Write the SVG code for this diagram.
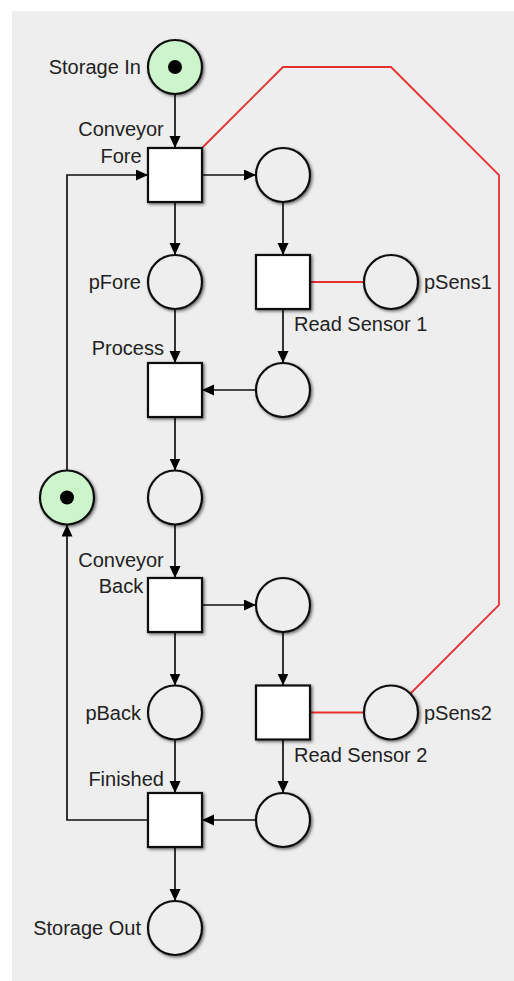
<svg xmlns="http://www.w3.org/2000/svg" width="514" height="981" viewBox="0 0 514 981">
  <defs>
    <filter id="sh" x="-30%" y="-30%" width="160%" height="160%">
      <feDropShadow dx="1.5" dy="1.5" stdDeviation="1.6" flood-color="#000" flood-opacity="0.55"/>
    </filter>
    <marker id="arr" markerUnits="userSpaceOnUse" markerWidth="13" markerHeight="12" refX="12" refY="5.5" orient="auto">
      <path d="M0,0 L12,5.5 L0,11 z" fill="#000"/>
    </marker>
  </defs>
  <style>
    .place { fill: #eeeeee; stroke: #111; stroke-width: 2.2; filter: url(#sh); }
    .marked { fill: #ccf5cc; }
    .trans { fill: #ffffff; stroke: #111; stroke-width: 2.2; filter: url(#sh); }
    .token { fill: #000; }
    .arc { fill: none; stroke: #111; stroke-width: 1.7; marker-end: url(#arr); }
    .inh { fill: none; stroke: #e53030; stroke-width: 1.8; }
    text { font-family: "Liberation Sans", Arial, sans-serif; font-size: 20px; fill: #222; }
    .r { text-anchor: end; }
    .m { text-anchor: middle; }
  </style>
  <rect x="12" y="11" width="502" height="970" fill="#eeeeee"/>

  <g id="connectors">
    <path class="arc" d="M175,94 L175,148"/>
    <path class="arc" d="M202,175 L256,175"/>
    <path class="arc" d="M283,202 L283,255"/>
    <path class="arc" d="M175,202 L175,255"/>
    <path class="arc" d="M175,309 L175,363"/>
    <path class="arc" d="M283,309 L283,363"/>
    <path class="arc" d="M256,390 L202,390"/>
    <path class="arc" d="M175,417 L175,470.5"/>
    <path class="arc" d="M175,524.5 L175,578"/>
    <path class="arc" d="M202,605 L256,605"/>
    <path class="arc" d="M283,632 L283,685.5"/>
    <path class="arc" d="M175,632 L175,685.5"/>
    <path class="arc" d="M175,739.5 L175,793"/>
    <path class="arc" d="M283,739.5 L283,793"/>
    <path class="arc" d="M256,820 L202,820"/>
    <path class="arc" d="M175,847 L175,901"/>
    <path class="arc" d="M148,820 L67,820 L67,524.5"/>
    <path class="arc" d="M67,470.5 L67,175 L148,175"/>
    <path class="inh" d="M202,148 L283,67 L391,67 L499,175 L499,605 L410,694"/>
    <path class="inh" d="M310,282 L364,282"/>
    <path class="inh" d="M310,712.5 L364,712.5"/>
  </g>

  <g id="storage-in">
    <circle class="place marked" cx="175" cy="67" r="27"/>
    <circle class="token" cx="175" cy="67" r="7"/>
    <text class="r" x="141" y="74">Storage In</text>
  </g>
  <g id="conveyor-fore">
    <rect class="trans" x="148" y="148" width="54" height="54"/>
    <text class="m" x="121" y="136">Conveyor</text>
    <text class="m" x="121" y="162.5">Fore</text>
  </g>
  <g id="p-fore-out">
    <circle class="place" cx="283" cy="175" r="27"/>
  </g>
  <g id="p-fore">
    <circle class="place" cx="175" cy="282" r="27"/>
    <text class="r" x="141" y="289">pFore</text>
  </g>
  <g id="read-sensor-1">
    <rect class="trans" x="256" y="255" width="54" height="54"/>
    <text x="294" y="331">Read Sensor 1</text>
  </g>
  <g id="p-sens1">
    <circle class="place" cx="391" cy="282" r="27"/>
    <text x="424" y="289">pSens1</text>
  </g>
  <g id="process">
    <rect class="trans" x="148" y="363" width="54" height="54"/>
    <text class="r" x="164" y="355">Process</text>
  </g>
  <g id="p-read1-out">
    <circle class="place" cx="283" cy="390" r="27"/>
  </g>
  <g id="p-mid">
    <circle class="place" cx="175" cy="497.5" r="27"/>
  </g>
  <g id="p-loop">
    <circle class="place marked" cx="67" cy="497.5" r="27"/>
    <circle class="token" cx="67" cy="497.5" r="7"/>
  </g>
  <g id="conveyor-back">
    <rect class="trans" x="148" y="578" width="54" height="54"/>
    <text class="m" x="121" y="566.5">Conveyor</text>
    <text class="m" x="121" y="593">Back</text>
  </g>
  <g id="p-back-out">
    <circle class="place" cx="283" cy="605" r="27"/>
  </g>
  <g id="p-back">
    <circle class="place" cx="175" cy="712.5" r="27"/>
    <text class="r" x="141" y="720">pBack</text>
  </g>
  <g id="read-sensor-2">
    <rect class="trans" x="256" y="685.5" width="54" height="54"/>
    <text x="294" y="761.5">Read Sensor 2</text>
  </g>
  <g id="p-sens2">
    <circle class="place" cx="391" cy="712.5" r="27"/>
    <text x="424" y="720">pSens2</text>
  </g>
  <g id="finished">
    <rect class="trans" x="148" y="793" width="54" height="54"/>
    <text class="r" x="164" y="786">Finished</text>
  </g>
  <g id="p-read2-out">
    <circle class="place" cx="283" cy="820" r="27"/>
  </g>
  <g id="storage-out">
    <circle class="place" cx="175" cy="928" r="27"/>
    <text class="r" x="141" y="935">Storage Out</text>
  </g>
</svg>
